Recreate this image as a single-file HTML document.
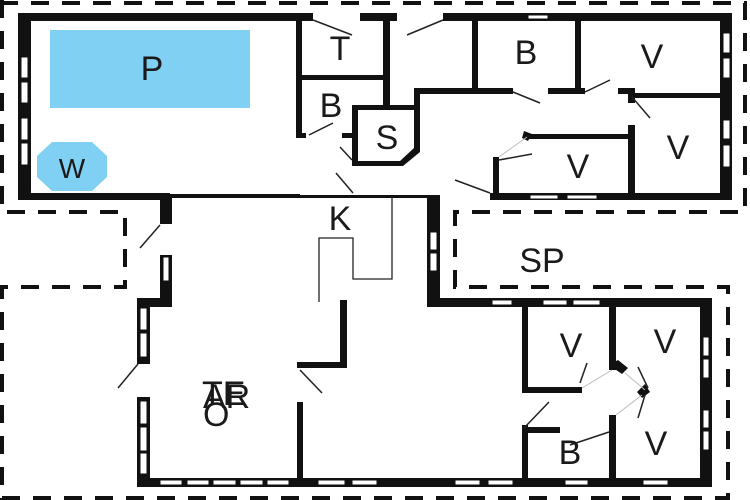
<!DOCTYPE html>
<html><head><meta charset="utf-8"><style>
html,body{margin:0;padding:0;background:#fff;}
svg{display:block;}
text{font-family:"Liberation Sans",sans-serif;fill:#1a1a1a;}
</style></head><body>
<svg width="750" height="500" viewBox="0 0 750 500" xmlns="http://www.w3.org/2000/svg">
<rect width="750" height="500" fill="#fff"/>
<g fill="none" stroke="#111" stroke-width="4" stroke-dasharray="18,13">
<path d="M0,3 H745 V212 H455 V287 H728 V498 H0"/>
<path d="M2,0 V212 H125 V287 H2 V500"/>
</g>
<rect x="50" y="30" width="200" height="78" fill="#80d0f4"/>
<polygon points="52,142 92,142 107,156 107,177 92,191 52,191 37,177 37,156" fill="#80d0f4"/>
<g fill="#111">
<rect x="18" y="13" width="295" height="8"/>
<rect x="360" y="13" width="37" height="8"/>
<rect x="443" y="13" width="289" height="8"/>
<rect x="18" y="13" width="13" height="187"/>
<rect x="720" y="13" width="12" height="187"/>
<rect x="18" y="193" width="152" height="7"/>
<rect x="160" y="194" width="140" height="4"/>
<rect x="300" y="195" width="140" height="3"/>
<rect x="490" y="193" width="242" height="7"/>
<rect x="296" y="13" width="6" height="125"/>
<rect x="300" y="75" width="90" height="5"/>
<rect x="383" y="13" width="7" height="97"/>
<rect x="296" y="133" width="10" height="5"/>
<rect x="342" y="133" width="14" height="5"/>
<rect x="352" y="105" width="6" height="61"/>
<rect x="352" y="105" width="68" height="5"/>
<polygon points="414,90 420,90 420,152 403,166 352,166 352,161 400,161 414,148"/>
<rect x="414" y="88" width="99" height="6"/>
<rect x="548" y="88" width="37" height="6"/>
<rect x="472" y="13" width="6" height="80"/>
<rect x="575" y="13" width="6" height="80"/>
<rect x="618" y="88" width="17" height="6"/>
<rect x="628" y="88" width="7" height="15"/>
<rect x="628" y="93" width="104" height="5"/>
<rect x="528" y="134" width="107" height="5"/>
<rect x="628" y="125" width="7" height="73"/>
<rect x="493" y="157" width="6" height="41"/>
<polygon points="524,131 532,134 528,141 522,138"/>
<rect x="160" y="196" width="12" height="28"/>
<rect x="160" y="255" width="12" height="52"/>
<rect x="137" y="298" width="35" height="9"/>
<rect x="137" y="298" width="13" height="66"/>
<rect x="137" y="397" width="13" height="90"/>
<rect x="137" y="478" width="575" height="9"/>
<rect x="427" y="196" width="13" height="110"/>
<rect x="427" y="298" width="285" height="9"/>
<rect x="700" y="298" width="12" height="189"/>
<rect x="340" y="300" width="7" height="67"/>
<rect x="297" y="362" width="50" height="6"/>
<rect x="297" y="402" width="6" height="85"/>
<rect x="522" y="300" width="6" height="93"/>
<rect x="522" y="387" width="60" height="6"/>
<rect x="522" y="425" width="6" height="62"/>
<rect x="522" y="427" width="38" height="6"/>
<rect x="609" y="300" width="7" height="70"/>
<rect x="609" y="415" width="7" height="72"/>
<polygon points="609,365 618,360 628,368 622,374"/>
<polygon points="637,392 645,384 650,392 642,398"/>
</g>
<g fill="#fff" stroke="#111" stroke-width="1">
<rect x="21" y="57" width="7" height="21"/><rect x="21" y="82" width="7" height="21"/>
<rect x="21" y="118" width="7" height="22"/><rect x="21" y="143" width="7" height="22"/>
<rect x="723" y="33" width="7" height="20"/><rect x="723" y="58" width="7" height="20"/>
<rect x="723" y="120" width="7" height="19"/><rect x="723" y="145" width="7" height="22"/>
<rect x="528" y="15" width="20" height="4"/>
<rect x="530" y="195" width="28" height="4"/><rect x="567" y="195" width="30" height="4"/>
<rect x="163" y="257" width="6" height="24"/>
<rect x="140" y="308" width="7" height="22"/><rect x="140" y="333" width="7" height="24"/>
<rect x="140" y="401" width="7" height="23"/><rect x="140" y="427" width="7" height="24"/><rect x="140" y="453" width="7" height="21"/>
<rect x="160" y="480" width="22" height="5"/><rect x="187" y="480" width="22" height="5"/><rect x="213" y="480" width="23" height="5"/>
<rect x="240" y="480" width="23" height="5"/><rect x="267" y="480" width="22" height="5"/>
<rect x="318" y="480" width="27" height="5"/><rect x="352" y="480" width="25" height="5"/>
<rect x="455" y="480" width="25" height="5"/><rect x="488" y="480" width="25" height="5"/>
<rect x="565" y="480" width="23" height="5"/><rect x="643" y="480" width="25" height="5"/>
<rect x="492" y="300" width="20" height="5"/><rect x="543" y="300" width="24" height="5"/><rect x="573" y="300" width="27" height="5"/>
<rect x="430" y="232" width="7" height="18"/><rect x="430" y="253" width="7" height="18"/>
<rect x="703" y="337" width="6" height="19"/><rect x="703" y="359" width="6" height="19"/>
<rect x="703" y="410" width="6" height="18"/><rect x="703" y="431" width="6" height="19"/>
</g>
<g stroke="#222" stroke-width="1.5" fill="none">
<path d="M313,20 L352,35"/><path d="M443,20 L407,35"/>
<path d="M333,123 L309,135"/>
<path d="M340,147 L352,160"/><path d="M336,173 L353,193"/>
<path d="M513,92 L540,103"/><path d="M585,92 L610,80"/>
<path d="M632,97 L650,118"/>
<path d="M499,160 L532,154"/>
<path d="M455,180 L490,193"/>
<path d="M160,225 L140,248"/>
<path d="M138,364 L118,388"/>
<path d="M300,370 L322,393"/>
<path d="M524,428 L549,402"/>
<path d="M580,383 L587,363"/>
<path d="M638,367 L648,388"/><path d="M645,395 L638,418"/>
<path d="M609,432 L570,445"/>
</g>
<g stroke="#222" stroke-width="1.3" fill="none">
<path d="M319,302 V238 H353 V279 H392 V197"/>
</g>
<g stroke="#bbb" stroke-width="1" fill="none">
<path d="M499,157 L527,137"/><path d="M582,388 L612,370"/><path d="M625,373 L645,390"/><path d="M616,415 L642,395"/>
</g>
<g font-size="34" text-anchor="middle">
<text x="152" y="80">P</text>
<text x="72" y="178" font-size="28">W</text>
<text x="340" y="60">T</text>
<text x="331" y="117">B</text>
<text x="387" y="149">S</text>
<text x="526" y="64">B</text>
<text x="652" y="68">V</text>
<text x="678" y="159">V</text>
<text x="578" y="178">V</text>
<text x="340" y="230">K</text>
<text x="542" y="272">SP</text>
<text x="571" y="357">V</text>
<text x="665" y="353">V</text>
<text x="656" y="455">V</text>
<text x="570" y="464">B</text>
</g>
<g font-size="34" text-anchor="start">
<text x="202" y="405">TE</text>
<text x="203" y="408">AR</text>
<text x="203" y="426">O</text>
</g>
</svg>
</body></html>
